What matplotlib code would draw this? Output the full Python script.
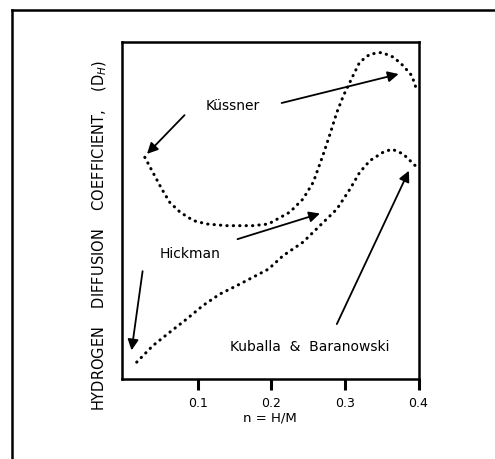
import matplotlib
matplotlib.use("Agg")
import matplotlib.pyplot as plt
from matplotlib.lines import Line2D

# Kussner curve (arbitrary y units)
kussner_x = [0.028, 0.039, 0.051, 0.062, 0.076, 0.094, 0.112, 0.139, 0.175, 0.196,
             0.225, 0.243, 0.257, 0.270, 0.279, 0.289, 0.298, 0.311, 0.320, 0.334,
             0.350, 0.366, 0.379, 0.391, 0.398]
kussner_y = [6.58, 6.13, 5.64, 5.24, 4.95, 4.70, 4.60, 4.55, 4.55, 4.60,
             4.95, 5.34, 5.84, 6.63, 7.22, 7.91, 8.41, 9.00, 9.40, 9.64,
             9.69, 9.55, 9.30, 9.00, 8.55]

# Hickman / Kuballa & Baranowski curve
hickman_x = [0.017, 0.039, 0.062, 0.085, 0.107, 0.130, 0.153, 0.175, 0.196, 0.216,
             0.243, 0.266, 0.289, 0.307, 0.320, 0.334, 0.352, 0.364, 0.379, 0.398]
hickman_y = [0.50, 0.99, 1.39, 1.78, 2.18, 2.52, 2.77, 3.02, 3.26, 3.66,
             4.06, 4.55, 5.04, 5.64, 6.13, 6.48, 6.73, 6.82, 6.68, 6.28]

xticks = [0.1, 0.2, 0.3, 0.4]
xtick_labels = ["0.1", "0.2", "0.3", "0.4"]

# labels: (text, x, y) and arrows: (x_from, y_from, x_to, y_to)
labels = [("Küssner", 0.147, 8.14), ("Hickman", 0.089, 3.75),
          ("Kuballa  &  Baranowski", 0.252, 0.99)]
arrows = [(0.214, 8.19, 0.373, 9.05),
          (0.082, 7.83, 0.031, 6.68),
          (0.154, 4.15, 0.266, 4.91),
          (0.025, 3.20, 0.010, 0.85),
          (0.289, 1.63, 0.387, 6.18)]

fig = plt.figure(figsize=(4.95, 4.6), dpi=100)
ax = fig.add_axes([122 / 495, 80 / 460, (418.5 - 122) / 495, (380 - 43) / 460])

dot_style = dict(color="black", lw=2.2, linestyle=(0, (0.1, 2.0)), dash_capstyle="round")
ax.plot(kussner_x, kussner_y, **dot_style)
ax.plot(hickman_x, hickman_y, **dot_style)

for txt, x, y in labels:
    ax.text(x, y, txt, ha="center", va="center", fontsize=10)

for x0, y0, x1, y1 in arrows:
    ax.annotate("", xy=(x1, y1), xytext=(x0, y0),
                arrowprops=dict(arrowstyle="-|>", lw=1.3, color="black",
                                mutation_scale=16, shrinkA=0, shrinkB=0))

ax.set_xlim(-0.003, 0.4)
ax.set_ylim(0, 10)
ax.set_xticks(xticks)
ax.set_xticklabels(xtick_labels, fontsize=9)
ax.set_yticks([])
ax.tick_params(axis="x", direction="out", length=8, width=2.2, pad=4)
for sp in ax.spines.values():
    sp.set_linewidth(1.8)

ax.set_xlabel("n = H/M", fontsize=9.5, labelpad=1)
ax.set_ylabel("HYDROGEN    DIFFUSION    COEFFICIENT,    (D$_H$)", fontsize=10.5)
ax.yaxis.set_label_coords(-0.045, 0.43)

# outer frame (top and left edges)
fig.add_artist(Line2D([12 / 495, 1.0], [1 - 11 / 460, 1 - 11 / 460],
                      transform=fig.transFigure, color="black", lw=1.8))
fig.add_artist(Line2D([12 / 495, 12 / 495], [0.0, 1 - 11 / 460],
                      transform=fig.transFigure, color="black", lw=1.8))

fig.savefig("out.png", dpi=100)
